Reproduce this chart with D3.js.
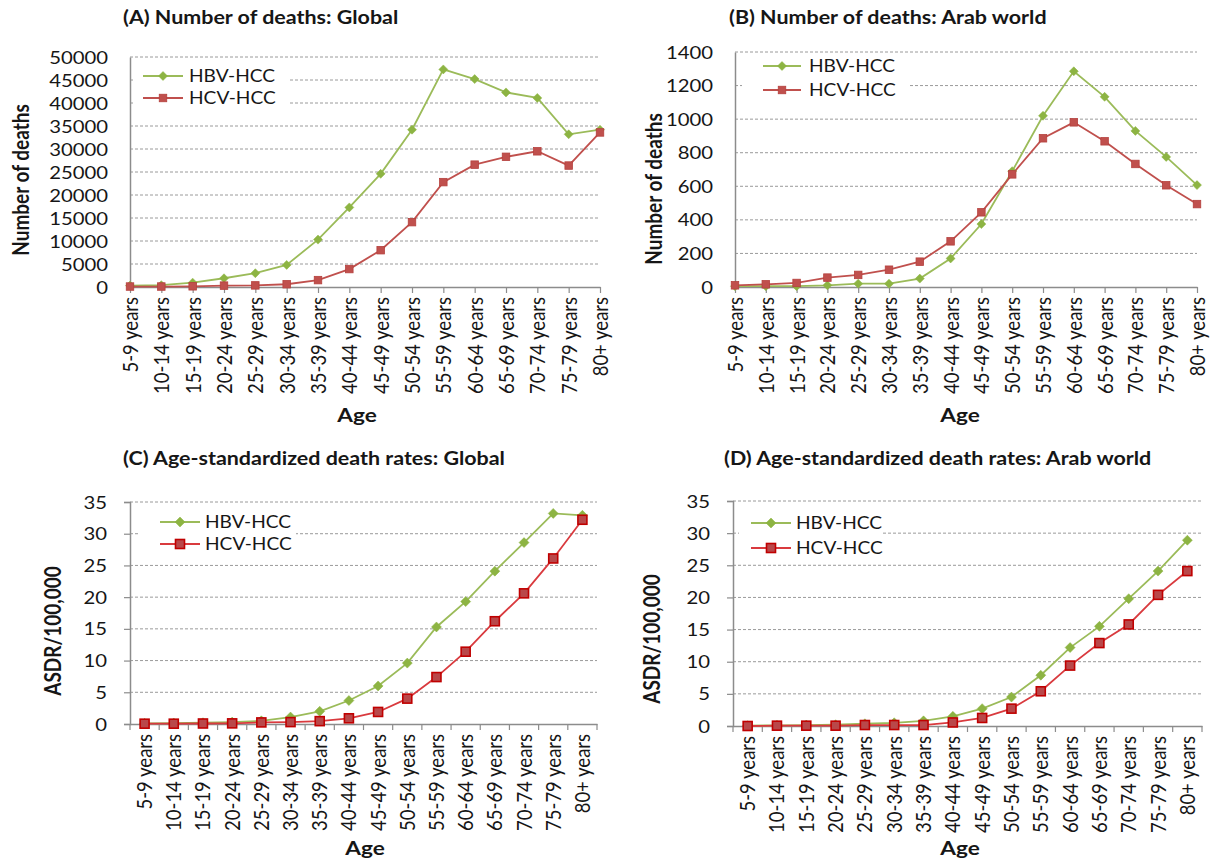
<!DOCTYPE html>
<html><head><meta charset="utf-8">
<script src="https://cdn.jsdelivr.net/npm/d3@7"></script>
<style>
body{margin:0;background:#fff}
svg{display:block}
text{font-family:Lato,"Open Sans",sans-serif;fill:#161616}
</style>
</head><body>
<svg id="chart" width="1211" height="861"></svg>
<script>
const ageGroups = ["5-9 years","10-14 years","15-19 years","20-24 years","25-29 years","30-34 years","35-39 years","40-44 years","45-49 years","50-54 years","55-59 years","60-64 years","65-69 years","70-74 years","75-79 years","80+ years"];
const seriesNames = ["HBV-HCC","HCV-HCC"];

const globalDeathsHBV = [300, 400, 950, 1900, 3000, 4800, 10300, 17300, 24600, 34200, 47300, 45200, 42300, 41100, 33200, 34200];
const globalDeathsHCV = [100, 100, 150, 300, 350, 600, 1500, 3900, 8000, 14100, 22800, 26600, 28300, 29500, 26400, 33600];
const arabDeathsHBV = [5, 5, 5, 10, 20, 20, 50, 170, 375, 690, 1020, 1285, 1133, 930, 775, 607];
const arabDeathsHCV = [10, 16, 24, 56, 72, 103, 151, 272, 445, 671, 886, 981, 868, 733, 606, 494];
const globalAsdrHBV = [0.1, 0.15, 0.2, 0.3, 0.5, 1.1, 2.0, 3.7, 6.0, 9.6, 15.3, 19.3, 24.1, 28.6, 33.2, 32.9];
const globalAsdrHCV = [0.05, 0.05, 0.08, 0.1, 0.25, 0.3, 0.45, 0.9, 1.9, 4.0, 7.4, 11.4, 16.2, 20.6, 26.1, 32.2];
const arabAsdrHBV = [0.05, 0.1, 0.15, 0.2, 0.35, 0.5, 0.8, 1.5, 2.7, 4.5, 7.9, 12.2, 15.5, 19.8, 24.1, 28.9];
const arabAsdrHCV = [0, 0.05, 0.05, 0.05, 0.15, 0.15, 0.15, 0.55, 1.25, 2.7, 5.4, 9.4, 12.9, 15.8, 20.4, 24.1];

const yTicksGlobalDeaths = [0,5000,10000,15000,20000,25000,30000,35000,40000,45000,50000];
const yTicksArabDeaths = [0,200,400,600,800,1000,1200,1400];
const yTicksAsdr = [0,5,10,15,20,25,30,35];

const titles = ["(A) Number of deaths: Global","(B) Number of deaths: Arab world","(C) Age-standardized death rates: Global","(D) Age-standardized death rates: Arab world"];
const yTitles = ["Number of deaths","Number of deaths","ASDR/100,000","ASDR/100,000"];
const xTitle = "Age";

const panels = [
  {title:titles[0], tx:123, ty:18, x0:130, x1:600, yb:287, yt:57, ticks:yTicksGlobalDeaths, mode:"point",
   hbv:globalDeathsHBV, hcv:globalDeathsHCV, ylab:yTitles[0], ylx:21, yly:180, agex:357, agey:415,
   leg:{l1:143, l2:183, tx:189, y1:76, y2:98, bx:134, bw:154, by:62, bh:46}, big:false},
  {title:titles[1], tx:729, ty:18, x0:735, x1:1197, yb:287, yt:52, ticks:yTicksArabDeaths, mode:"point",
   hbv:arabDeathsHBV, hcv:arabDeathsHCV, ylab:yTitles[1], ylx:654, yly:189, agex:960, agey:415,
   leg:{l1:763, l2:801, tx:809, y1:66, y2:90, bx:742, bw:166, by:55, bh:48}, big:false},
  {title:titles[2], tx:123, ty:459, x0:130, x1:597, yb:724, yt:502, ticks:yTicksAsdr, mode:"band",
   hbv:globalAsdrHBV, hcv:globalAsdrHCV, ylab:yTitles[2], ylx:53, yly:631, agex:365, agey:848,
   leg:{l1:160, l2:200, tx:205, y1:522, y2:544, bx:138, bw:158, by:510, bh:46}, big:true},
  {title:titles[3], tx:724, ty:459, x0:733, x1:1202, yb:726, yt:501, ticks:yTicksAsdr, mode:"band",
   hbv:arabAsdrHBV, hcv:arabAsdrHCV, ylab:yTitles[3], ylx:652, yly:639, agex:960, agey:848,
   leg:{l1:751, l2:791, tx:796, y1:523, y2:548, bx:739, bw:144, by:511, bh:48}, big:true}
];

const SX = 1.16; // horizontal stretch of the reference's lettering
const svg = d3.select("#chart");
const green = "#9BBB59", greenFill = "#8DB443";

function diamond(g, cx, cy, s, fill){
  g.append("path").attr("d", `M${cx},${cy-s}L${cx+s},${cy}L${cx},${cy+s}L${cx-s},${cy}Z`)
    .attr("fill", fill).attr("stroke", fill).attr("stroke-width", 0.5);
}
function square(g, cx, cy, s, fill, stroke, sw){
  g.append("rect").attr("x", cx-s/2).attr("y", cy-s/2).attr("width", s).attr("height", s)
    .attr("fill", fill).attr("stroke", stroke).attr("stroke-width", sw);
}
function stretchedText(g, x, y, txt, size, weight, anchor){
  return g.append("text").attr("transform", `translate(${x},${y}) scale(${SX},1)`)
    .attr("dy", "0.35em").attr("font-size", size).attr("font-weight", weight || "normal")
    .attr("text-anchor", anchor || "start").text(txt);
}

panels.forEach(p => {
  const g = svg.append("g");
  const yMax = p.ticks[p.ticks.length-1];
  const y = d3.scaleLinear().domain([0, yMax]).range([p.yb, p.yt]);
  let xPos, x;
  if (p.mode === "point") {
    x = d3.scalePoint().domain(ageGroups).range([p.x0, p.x1]).padding(0);
    xPos = d => x(d);
  } else {
    x = d3.scaleBand().domain(ageGroups).range([p.x0, p.x1]).paddingInner(0).paddingOuter(0);
    xPos = d => x(d) + x.bandwidth()/2;
  }
  const redLine = p.big ? "#D93A3E" : "#C0504D";
  const redFill = p.big ? "#B9484A" : "#C0504D";
  const redStroke = p.big ? "#C00000" : "#B5403D";

  // gridlines
  g.selectAll(".grid").data(p.ticks.filter(t => t > 0)).enter().append("line")
    .attr("x1", p.x0).attr("x2", p.x1).attr("y1", d => y(d)).attr("y2", d => y(d))
    .attr("stroke", "#9a9a9a").attr("stroke-width", 1).attr("stroke-dasharray", "3,2");

  // y axis
  const pad = p.big ? 23 : 22;
  const yAxis = d3.axisLeft(y).tickValues(p.ticks).tickSize(p.big ? 6 : 0).tickFormat(d3.format("d"));
  const ya = g.append("g").attr("transform", `translate(${p.x0},0)`).call(yAxis);
  ya.select(".domain").attr("stroke", "#8c8c8c").attr("stroke-width", 1.5);
  ya.selectAll(".tick line").attr("stroke", "#8c8c8c").attr("stroke-width", 1.2);
  ya.selectAll(".tick text").attr("font-size", 17.5).attr("font-family", "Lato,sans-serif").attr("fill", "#161616")
    .attr("x", 0).attr("dy", "0.35em").attr("transform", `translate(${-pad},0) scale(${SX},1)`);

  // x axis
  const xa = g.append("g").attr("transform", `translate(0,${p.yb})`);
  if (p.mode === "point") {
    xa.call(d3.axisBottom(x).tickSize(6).tickSizeOuter(0));
  } else {
    xa.call(d3.axisBottom(x).tickSize(0).tickSizeOuter(0));
    const bounds = ageGroups.map(a => x(a)).concat([p.x1]);
    xa.selectAll(".bnd").data(bounds).enter().append("line")
      .attr("x1", d => d).attr("x2", d => d).attr("y1", 0).attr("y2", 6)
      .attr("stroke", "#8c8c8c").attr("stroke-width", 1.2);
  }
  xa.select(".domain").attr("stroke", "#8c8c8c").attr("stroke-width", 1.5);
  xa.selectAll(".tick line").attr("stroke", "#8c8c8c").attr("stroke-width", 1.2);
  xa.selectAll(".tick text").attr("font-size", 18.5).attr("font-family", "Lato,sans-serif").attr("fill", "#161616")
    .attr("transform", `rotate(-90) scale(1,${SX})`).attr("text-anchor", "end")
    .attr("x", -10).attr("y", 0).attr("dy", "0.35em");

  // lines
  const line = vals => d3.line().x((d,i) => xPos(ageGroups[i])).y(d => y(d))(vals);
  g.append("path").attr("d", line(p.hbv)).attr("fill", "none").attr("stroke", green).attr("stroke-width", 1.8);
  g.append("path").attr("d", line(p.hcv)).attr("fill", "none").attr("stroke", redLine).attr("stroke-width", 1.8);
  p.hbv.forEach((v,i) => diamond(g, xPos(ageGroups[i]), y(v), p.big ? 5 : 4.5, greenFill));
  p.hcv.forEach((v,i) => square(g, xPos(ageGroups[i]), y(v), p.big ? 9 : 7.5, redFill, redStroke, p.big ? 1.6 : 0.8));

  // legend
  const L = p.leg;
  g.append("rect").attr("x", L.bx).attr("y", L.by).attr("width", L.bw).attr("height", L.bh).attr("fill", "#fff");
  g.append("line").attr("x1", L.l1).attr("x2", L.l2).attr("y1", L.y1).attr("y2", L.y1).attr("stroke", green).attr("stroke-width", 1.8);
  diamond(g, (L.l1+L.l2)/2, L.y1, p.big ? 5 : 4.5, greenFill);
  g.append("line").attr("x1", L.l1).attr("x2", L.l2).attr("y1", L.y2).attr("y2", L.y2).attr("stroke", redLine).attr("stroke-width", 1.8);
  square(g, (L.l1+L.l2)/2, L.y2, p.big ? 9 : 7.5, redFill, redStroke, p.big ? 1.6 : 0.8);
  stretchedText(g, L.tx, L.y1, seriesNames[0], 16.5);
  stretchedText(g, L.tx, L.y2, seriesNames[1], 16.5);

  // titles
  stretchedText(g, p.tx, p.ty, p.title, 18.5, "bold");
  g.append("text").attr("transform", `translate(${p.ylx},${p.yly}) rotate(-90) scale(1,${SX})`).attr("text-anchor", "middle").attr("dy", "0.35em")
    .attr("font-size", 19).attr("font-weight", "bold").text(p.ylab);
  stretchedText(g, p.agex, p.agey, xTitle, 19.5, "bold", "middle");
});
</script>
</body></html>
